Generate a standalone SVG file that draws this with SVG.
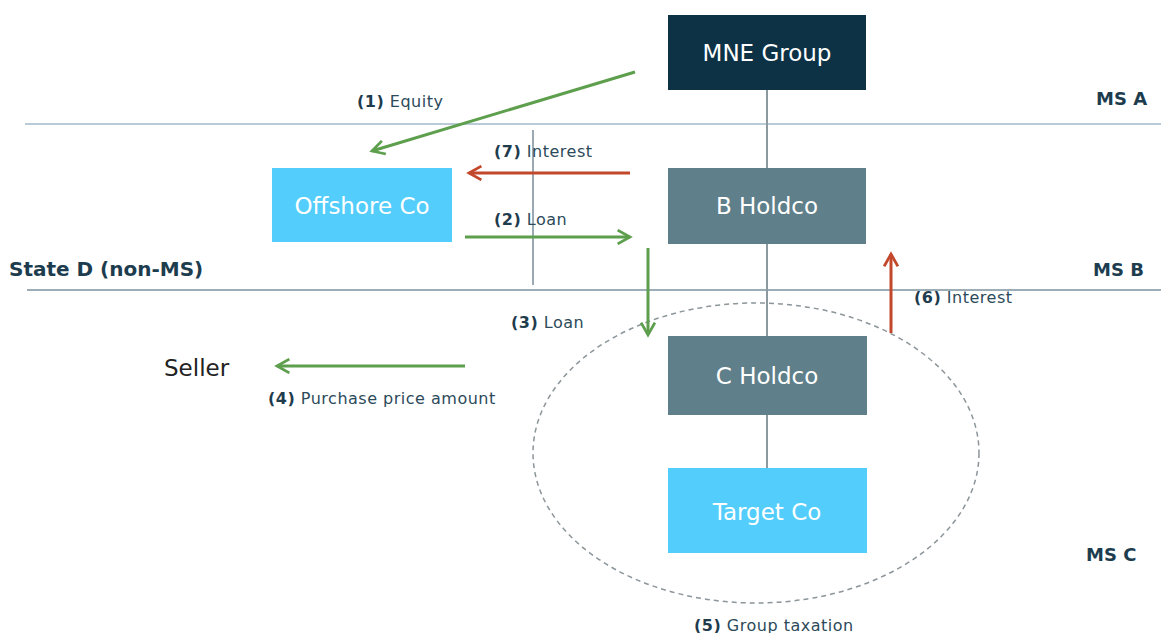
<svg xmlns="http://www.w3.org/2000/svg" width="1161" height="633" viewBox="0 0 1161 633">
<style>
.box text{font-family:"DejaVu Sans","Liberation Sans",sans-serif;font-size:23px;fill:#ffffff;text-anchor:middle}
.lbl{font-family:"DejaVu Sans","Liberation Sans",sans-serif;font-size:16px;letter-spacing:0.5px;fill:#2c4a5a}
.lbl .n{font-weight:bold;fill:#1f3c4d}
.zone{font-family:"DejaVu Sans","Liberation Sans",sans-serif;font-size:18px;font-weight:bold;fill:#1d3d4f}
.g{stroke:#5d9f4c;stroke-width:3;fill:none;marker-end:url(#ag)}
.r{stroke:#c2472b;stroke-width:3;fill:none;marker-end:url(#ar)}
</style>
<defs>
<marker id="ag" viewBox="0 0 12 12" refX="10" refY="6" markerWidth="5.5" markerHeight="5.5" orient="auto" markerUnits="strokeWidth"><path d="M1,1 L10,6 L1,11" fill="none" stroke="#5d9f4c" stroke-width="2"/></marker>
<marker id="ar" viewBox="0 0 12 12" refX="10" refY="6" markerWidth="5.5" markerHeight="5.5" orient="auto" markerUnits="strokeWidth"><path d="M1,1 L10,6 L1,11" fill="none" stroke="#c2472b" stroke-width="2"/></marker>
</defs>
<rect width="1161" height="633" fill="#ffffff"/>
<g id="borders">
<line x1="25" y1="124" x2="1161" y2="124" stroke="#b9cbd7" stroke-width="2"/>
<line x1="27" y1="290" x2="1161" y2="290" stroke="#9dadb7" stroke-width="2"/>
<line x1="533" y1="130" x2="533" y2="285" stroke="#9aa9b3" stroke-width="2"/>
<text class="zone" x="1096" y="105">MS A</text>
<text class="zone" x="1093" y="276">MS B</text>
<text class="zone" x="1086" y="561">MS C</text>
<text class="zone" x="9" y="276" style="font-size:20px">State D (non-MS)</text>
</g>
<g id="group-taxation">
<ellipse cx="756" cy="453" rx="223" ry="150" fill="none" stroke="#8c9599" stroke-width="1.5" stroke-dasharray="5,4"/>
</g>
<g id="connectors">
<line x1="767" y1="90" x2="767" y2="468" stroke="#8c9a9f" stroke-width="2"/>
<line class="g" x1="635" y1="72" x2="372" y2="151"/>
<line class="r" x1="630" y1="173" x2="469" y2="173"/>
<line class="g" x1="465" y1="237" x2="630" y2="237"/>
<line class="g" x1="648" y1="248" x2="648" y2="335"/>
<line class="g" x1="465" y1="366" x2="277" y2="366"/>
<line class="r" x1="891" y1="333" x2="891" y2="254"/>
<text class="lbl" x="357" y="107"><tspan class="n">(1)</tspan> Equity</text>
<text class="lbl" x="494" y="157"><tspan class="n">(7)</tspan> Interest</text>
<text class="lbl" x="494" y="225"><tspan class="n">(2)</tspan> Loan</text>
<text class="lbl" x="511" y="328"><tspan class="n">(3)</tspan> Loan</text>
<text class="lbl" x="268" y="404"><tspan class="n">(4)</tspan> Purchase price amount</text>
<text class="lbl" x="914" y="303"><tspan class="n">(6)</tspan> Interest</text>
<text class="lbl" x="694" y="631"><tspan class="n">(5)</tspan> Group taxation</text>
</g>
<g id="mne-group" class="box"><rect x="668" y="15" width="198" height="75" fill="#0d3246"/><text x="767" y="61">MNE Group</text></g>
<g id="b-holdco" class="box"><rect x="668" y="168" width="198" height="76" fill="#5f7f8a"/><text x="767" y="214">B Holdco</text></g>
<g id="c-holdco" class="box"><rect x="668" y="336" width="199" height="79" fill="#5f7f8a"/><text x="767" y="384">C Holdco</text></g>
<g id="target-co" class="box"><rect x="668" y="468" width="199" height="85" fill="#52cdfc"/><text x="767" y="520">Target Co</text></g>
<g id="offshore-co" class="box"><rect x="272" y="168" width="180" height="74" fill="#52cdfc"/><text x="362" y="214">Offshore Co</text></g>
<g id="seller"><text x="164" y="376" font-family="DejaVu Sans, Liberation Sans, sans-serif" font-size="23" fill="#222222">Seller</text></g>
</svg>
